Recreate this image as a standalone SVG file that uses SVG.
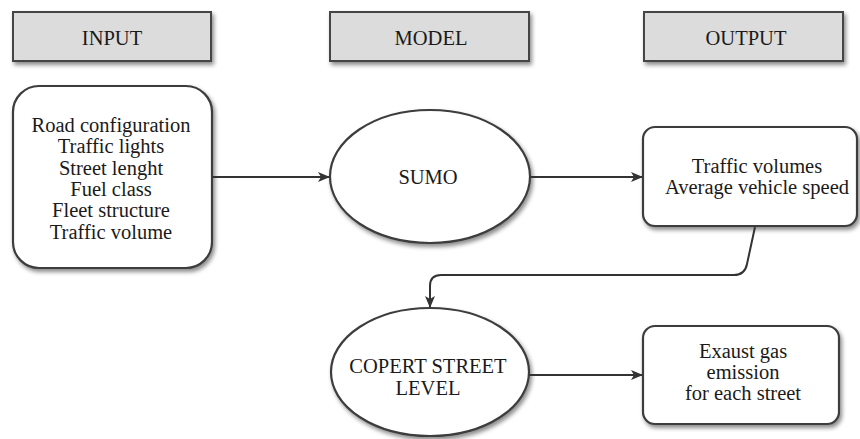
<svg xmlns="http://www.w3.org/2000/svg" width="860" height="439" viewBox="0 0 860 439">
<defs>
<filter id="sh" x="-10%" y="-10%" width="130%" height="140%">
<feDropShadow dx="2" dy="3" stdDeviation="2" flood-color="#000" flood-opacity="0.45"/>
</filter>
<marker id="ah" viewBox="0 0 12 10" refX="11" refY="5" markerWidth="12" markerHeight="10" markerUnits="userSpaceOnUse" orient="auto">
<path d="M0,0 L12,5 L0,10 L3,5 Z" fill="#333"/>
</marker>
</defs>
<style>
.hdr{fill:#dcdcdc;stroke:#444;stroke-width:2;filter:url(#sh)}
.nd{fill:#fff;stroke:#3c3c3c;stroke-width:2.2;filter:url(#sh)}
text{font-family:'Liberation Serif','Times New Roman',serif;font-size:20.5px;fill:#1a1a1a;text-anchor:middle}
.cn{fill:none;stroke:#333;stroke-width:2;marker-end:url(#ah)}
</style>
<rect width="860" height="439" fill="#fff"/>
<g id="hdr-input"><rect class="hdr" x="13" y="12" width="198" height="49"/><text x="112" y="45">INPUT</text></g>
<g id="hdr-model"><rect class="hdr" x="330" y="12" width="199" height="49"/><text x="431" y="45">MODEL</text></g>
<g id="hdr-output"><rect class="hdr" x="644" y="12" width="199" height="49"/><text x="746" y="45">OUTPUT</text></g>
<g id="input"><rect class="nd" x="13" y="86" width="199" height="182" rx="26"/>
<text><tspan x="111" y="132">Road configuration</tspan><tspan x="111" y="153.3">Traffic lights</tspan><tspan x="111" y="174.6">Street lenght</tspan><tspan x="111" y="195.9">Fuel class</tspan><tspan x="111" y="217.2">Fleet structure</tspan><tspan x="111" y="238.5">Traffic volume</tspan></text></g>
<g id="sumo"><ellipse class="nd" cx="430" cy="176.5" rx="100" ry="66.5"/><text x="428" y="184">SUMO</text></g>
<g id="output"><rect class="nd" x="643" y="127" width="214" height="99" rx="12"/>
<text><tspan x="757" y="173">Traffic volumes</tspan><tspan x="757" y="194">Average vehicle speed</tspan></text></g>
<g id="copert"><ellipse class="nd" cx="430" cy="372" rx="99" ry="64"/>
<text><tspan x="428" y="373">COPERT STREET</tspan><tspan x="428" y="395">LEVEL</tspan></text></g>
<g id="emission"><rect class="nd" x="643" y="326" width="196" height="98" rx="12"/>
<text><tspan x="743" y="358">Exaust gas</tspan><tspan x="743" y="379">emission</tspan><tspan x="743" y="400">for each street</tspan></text></g>
<g id="connectors">
<path class="cn" d="M212,177 L329,177"/>
<path class="cn" d="M530,177 L642,177"/>
<path class="cn" d="M755,227 L747,264 Q745,275 734,275 L441,275 Q430,275 430,286 L430,307"/>
<path class="cn" d="M529,375 L642,375"/>
</g>
</svg>
